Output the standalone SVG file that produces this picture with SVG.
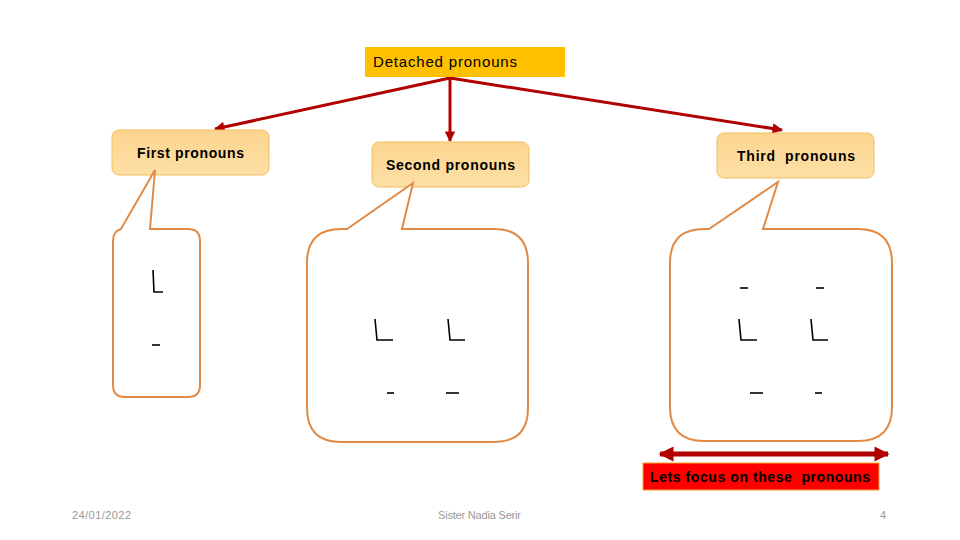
<svg xmlns="http://www.w3.org/2000/svg" width="960" height="540" viewBox="0 0 960 540">
<defs>
<linearGradient id="ng" x1="0" y1="0" x2="0" y2="1">
<stop offset="0" stop-color="#FCD58F"/>
<stop offset="1" stop-color="#FDDFA6"/>
</linearGradient>
<marker id="ah" viewBox="0 0 10 10" refX="9" refY="5" markerWidth="4" markerHeight="3.5" orient="auto-start-reverse">
<path d="M0,0 L10,5 L0,10 Z" fill="#B00000"/>
</marker>
<marker id="ah2" viewBox="0 0 10 10" refX="9" refY="5" markerWidth="3.4" markerHeight="3" orient="auto-start-reverse">
<path d="M0,0 L10,5 L0,10 Z" fill="#B00000"/>
</marker>
</defs>
<style>
.node rect{fill:url(#ng);stroke:#F3BE5C;stroke-width:1}
.nt{font-family:"Liberation Sans",Arial,sans-serif;font-weight:bold;font-size:14px;fill:#000}
.co{fill:#fff;stroke:#E08A45;stroke-width:2}
.mk{fill:none;stroke:#000;stroke-width:1.6}
.ft{font-family:"Liberation Sans",Arial,sans-serif;font-size:11px;fill:#999}
.conn{stroke:#B00000;stroke-width:3;fill:none}
</style>
<rect width="960" height="540" fill="#fff"/>

<g id="connectors">
<line class="conn" x1="450" y1="78" x2="215" y2="129" marker-end="url(#ah)"/>
<line class="conn" x1="450" y1="78" x2="450" y2="141" marker-end="url(#ah)"/>
<line class="conn" x1="450" y1="78" x2="782" y2="130" marker-end="url(#ah)"/>
</g>

<g id="detached">
<rect x="365" y="47" width="200" height="30" fill="#FFC000"/>
<text x="373" y="67" font-family="Liberation Sans,Arial,sans-serif" font-size="15" fill="#000" textLength="144" lengthAdjust="spacing">Detached pronouns</text>
</g>

<g id="first" class="node">
<rect x="112" y="130" width="157" height="45" rx="7"/>
<text class="nt" x="137" y="158" textLength="107" lengthAdjust="spacing">First pronouns</text>
</g>
<g id="second" class="node">
<rect x="372" y="142" width="157" height="45" rx="7"/>
<text class="nt" x="386" y="170" textLength="129" lengthAdjust="spacing">Second pronouns</text>
</g>
<g id="third" class="node">
<rect x="717" y="133" width="157" height="45" rx="7"/>
<text class="nt" x="737" y="161" textLength="118" lengthAdjust="spacing" xml:space="preserve">Third  pronouns</text>
</g>

<g id="callout-first">
<path class="co" d="M155,170 L150,229 L188,229 Q200,229 200,241 L200,385 Q200,397 188,397 L125,397 Q113,397 113,385 L113,241 Q113,231 121,229 Z"/>
<path class="mk" d="M153,270 L154,292 L163,292"/>
<path class="mk" d="M152,345 L160,345"/>
</g>

<g id="callout-second">
<path class="co" d="M413,183 L402,229 L494,229 Q528,229 528,263 L528,408 Q528,442 494,442 L341,442 Q307,442 307,408 L307,263 Q307,229 341,229 L347,229 Z"/>
<path class="mk" d="M375,319 L377,340 L393,340"/>
<path class="mk" d="M448,319 L450,340 L465,340"/>
<path class="mk" d="M387,393 L394,393"/>
<path class="mk" d="M446,393 L459,393"/>
</g>

<g id="callout-third">
<path class="co" d="M778,182 L763,229 L858,229 Q892,229 892,263 L892,407 Q892,441 858,441 L704,441 Q670,441 670,407 L670,263 Q670,229 704,229 L709,229 Z"/>
<path class="mk" d="M740,288 L748,288"/>
<path class="mk" d="M816,288 L824,288"/>
<path class="mk" d="M739,319 L741,340 L757,340"/>
<path class="mk" d="M811,319 L813,340 L828,340"/>
<path class="mk" d="M750,393 L763,393"/>
<path class="mk" d="M815,393 L822,393"/>
</g>

<g id="focus">
<line x1="660" y1="454" x2="888" y2="454" stroke="#B00000" stroke-width="5" marker-start="url(#ah2)" marker-end="url(#ah2)"/>
<rect x="643" y="463" width="236" height="27" fill="#FF0000" stroke="#F5A623" stroke-width="1"/>
<text x="650" y="482" font-family="Liberation Sans,Arial,sans-serif" font-weight="bold" font-size="14" fill="#000" textLength="220" lengthAdjust="spacing" xml:space="preserve">Lets focus on these  pronouns</text>
</g>

<g id="footer">
<text class="ft" x="72" y="519" textLength="59" lengthAdjust="spacing">24/01/2022</text>
<text class="ft" x="438" y="519" textLength="83" lengthAdjust="spacing">Sister Nadia Serir</text>
<text class="ft" x="886" y="519" text-anchor="end">4</text>
</g>
</svg>
